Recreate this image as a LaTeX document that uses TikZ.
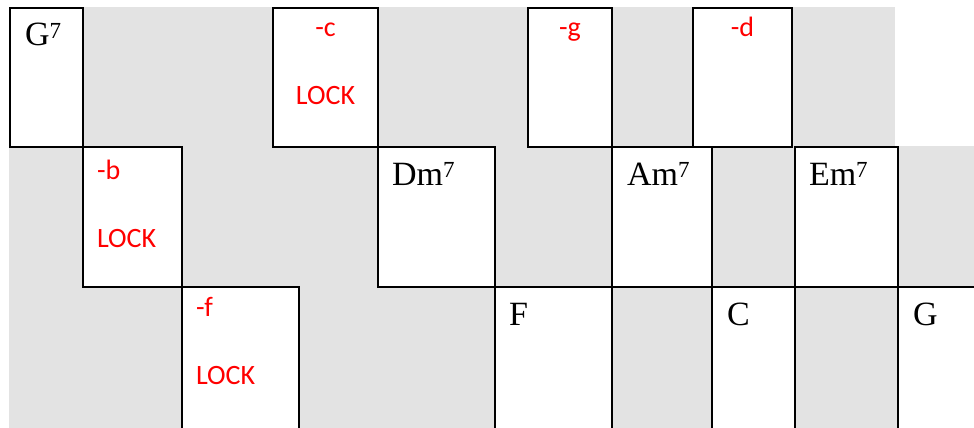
\documentclass[tikz,border=0pt]{standalone}
\usepackage{fontspec}
\setmainfont{Liberation Serif}
\newfontfamily\redfont{Carlito}
\usetikzlibrary{calc}
\definecolor{bggray}{RGB}{227,227,227}
\definecolor{lockred}{RGB}{255,0,0}
\newcommand{\sev}{\raisebox{7.5pt}{\fontsize{23}{23}\selectfont 7}}
\begin{document}
\begin{tikzpicture}[x=1pt,y=-1pt,
  box/.style={draw=black, line width=2.2pt, fill=white, rectangle, inner sep=0pt, outer sep=0pt, anchor=north west},
  chord/.style={anchor=base west, inner sep=0pt, outer sep=0pt, font=\fontsize{34}{40}\selectfont, text=black},
  redlab/.style={anchor=base west, inner sep=0pt, outer sep=0pt, font=\redfont\fontsize{28}{30}\selectfont, text=lockred},
  redmid/.style={redlab, anchor=base}]
\useasboundingbox (0,0) rectangle (974,428);
\clip (0,0) rectangle (974,428);
% gray backgrounds
\fill[bggray] (10,7) rectangle (895,147);
\fill[bggray] (9,146) rectangle (974,428);
% row 1
\node[box, minimum width=73pt, minimum height=139pt] (bg7) at (10,8) {};
\node[box, minimum width=105pt, minimum height=139pt] (bc) at (273,8) {};
\node[box, minimum width=84pt, minimum height=139pt] (bgm) at (528,8) {};
\node[box, minimum width=99pt, minimum height=139pt] (bd) at (693,8) {};
% row 2
\node[box, minimum width=99pt, minimum height=140pt] (bb) at (83,147) {};
\node[box, minimum width=117pt, minimum height=140pt] (bdm) at (378,147) {};
\node[box, minimum width=100pt, minimum height=140pt] (bam) at (612,147) {};
\node[box, minimum width=103pt, minimum height=140pt] (bem) at (795,147) {};
% row 3
\node[box, minimum width=117pt, minimum height=160pt] (bf) at (182,287) {};
\node[box, minimum width=117pt, minimum height=160pt] (bF) at (495,287) {};
\node[box, minimum width=83pt, minimum height=160pt] (bC) at (712,287) {};
\node[box, minimum width=100pt, minimum height=160pt] (bG) at (898,287) {};
% labels
\node[chord] (tg7) at ($(bg7.north west)+(15,38)$) {G\sev};
\node[redmid] (tc) at ($(bc.north)+(0,29)$) {-c};
\node[redmid] (tcl) at ($(bc.north)+(0,96)$) {LOCK};
\node[redmid] (tgm) at ($(bgm.north)+(0,29)$) {-g};
\node[redmid] (td) at ($(bd.north)+(0,29)$) {-d};
\node[redlab] (tb) at ($(bb.north west)+(14,32)$) {-b};
\node[redlab] (tbl) at ($(bb.north west)+(14,100)$) {LOCK};
\node[chord] (tdm) at ($(bdm.north west)+(14,38)$) {Dm\sev};
\node[chord] (tam) at ($(bam.north west)+(15,38)$) {Am\sev};
\node[chord] (tem) at ($(bem.north west)+(14,38)$) {Em\sev};
\node[redlab] (tf) at ($(bf.north west)+(14,29)$) {-f};
\node[redlab] (tfl) at ($(bf.north west)+(14,97)$) {LOCK};
\node[chord] (tF) at ($(bF.north west)+(14,38)$) {F};
\node[chord] (tC) at ($(bC.north west)+(15,38)$) {C};
\node[chord] (tG) at ($(bG.north west)+(15,38)$) {G};
\end{tikzpicture}
\end{document}
